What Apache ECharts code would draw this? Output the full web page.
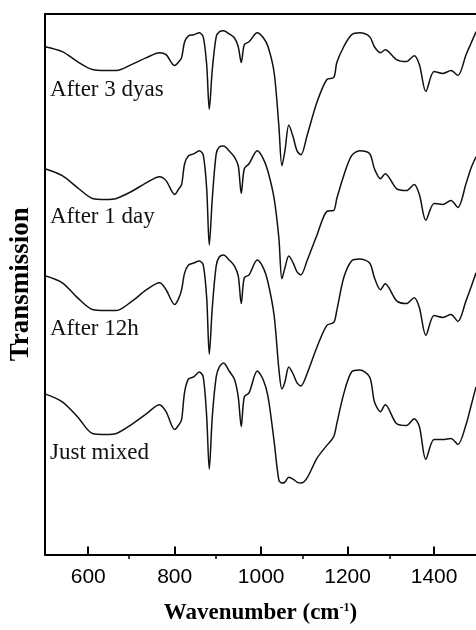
<!DOCTYPE html>
<html>
<head>
<meta charset="utf-8">
<script src="https://cdn.jsdelivr.net/npm/echarts@6/dist/echarts.min.js"></script>
<style>
  html, body { margin: 0; padding: 0; background: #fff; }
  #ir-chart { width: 476px; height: 630px; }
</style>
</head>
<body>
<div id="ir-chart"></div>
<script>
// wavenumber grid (cm-1) shared by the four spectra
const wavenumbers = [500, 540, 575, 610, 640, 665, 700, 735, 765, 780,
    800, 810, 816, 823, 832, 844, 857, 866, 874, 880,
    887, 896, 903, 913, 926, 938, 947, 954, 961, 972,
    991, 1005, 1016, 1030, 1041, 1048, 1055, 1064, 1074, 1083,
    1092, 1106, 1129, 1152, 1168, 1175, 1191, 1209, 1228, 1251,
    1262, 1276, 1287, 1313, 1336, 1354, 1366, 1381, 1400, 1420,
    1439, 1455, 1474, 1485, 1497];

// transmission, stacked with an offset (arbitrary units)
const after3Days = [512, 507, 497, 489, 488, 488, 494, 501, 506, 504,
    493, 497, 501, 517, 523, 524, 526, 522, 494, 449,
    489, 522, 527, 528, 525, 521, 512, 496, 514, 517,
    526, 521, 512, 486, 432, 392, 407, 433, 421, 407,
    403, 422, 456, 479, 481, 496, 512, 524, 526, 522,
    512, 506, 509, 499, 497, 503, 494, 467, 487, 485,
    488, 483, 504, 515, 527];
const after1Day = [389, 382, 370, 359, 358, 359, 366, 375, 381, 377,
    363, 369, 373, 394, 402, 404, 407, 403, 369, 312,
    359, 404, 411, 412, 407, 401, 392, 364, 389, 394,
    407, 399, 386, 359, 319, 278, 289, 301, 294, 285,
    282, 296, 322, 346, 347, 359, 382, 402, 407, 404,
    389, 379, 384, 369, 367, 373, 363, 337, 354, 353,
    357, 350, 374, 389, 401];
const after12h = [281, 274, 259, 247, 246, 246, 255, 267, 274, 267,
    252, 259, 267, 284, 292, 294, 296, 292, 259, 202,
    249, 291, 300, 302, 297, 291, 281, 253, 279, 282,
    297, 289, 274, 241, 187, 167, 174, 189, 182, 173,
    170, 182, 209, 231, 234, 246, 279, 296, 298, 294,
    279, 267, 273, 256, 253, 259, 249, 221, 241, 239,
    242, 235, 256, 269, 284];
const justMixed = [162, 154, 139, 122, 121, 122, 131, 142, 151, 144,
    126, 131, 136, 164, 177, 179, 184, 179, 139, 86,
    139, 179, 189, 193, 185, 177, 159, 129, 159, 163,
    185, 176, 159, 114, 75, 72, 73, 78, 76, 73,
    72, 77, 97, 110, 119, 132, 162, 184, 186, 179,
    154, 144, 151, 132, 130, 137, 129, 96, 116, 116,
    117, 111, 131, 149, 169];

const seriesNames = ['After 3 dyas', 'After 1 day', 'After 12h', 'Just mixed'];
const majorTicks = [600, 800, 1000, 1200, 1400];
const minorTicks = [700, 900, 1100, 1300];

const chart = echarts.init(document.getElementById('ir-chart'));

const toPairs = (vals) => wavenumbers.map((w, i) => [w, vals[i]]);
const spectra = [after3Days, after1Day, after12h, justMixed];

// label positions next to each curve (left, top)
const labelPos = [[50, 78], [50, 205], [50, 317], [50, 441]];

const gridBox = { left: 42, right: 0, top: 14, bottom: 71 };

const option = {
    backgroundColor: '#fff',
    animation: false,
    grid: [
        Object.assign({}, gridBox),
        Object.assign({}, gridBox)
    ],
    xAxis: [
        {
            type: 'value',
            gridIndex: 0,
            min: 500,
            max: 1497,
            position: 'bottom',
            axisLine: { lineStyle: { color: '#000', width: 2 } },
            axisTick: {
                inside: true,
                length: 8,
                customValues: majorTicks,
                lineStyle: { color: '#000', width: 2 }
            },
            axisLabel: {
                customValues: majorTicks,
                formatter: (v) => String(v),
                color: '#000',
                fontSize: 21,
                fontFamily: 'Liberation Sans',
                margin: 12
            },
            splitLine: { show: false },
            name: '{a|Wavenumber (cm}{b|-1}{a|)}',
            nameLocation: 'middle',
            nameGap: 47,
            nameTextStyle: {
                rich: {
                    a: { fontFamily: 'Liberation Serif', fontWeight: 'bold', fontSize: 23, color: '#000' },
                    b: { fontFamily: 'Liberation Serif', fontWeight: 'bold', fontSize: 12, color: '#000', verticalAlign: 'top', padding: [0, 0, 12, 0] }
                }
            }
        },
        {
            type: 'value',
            gridIndex: 0,
            min: 500,
            max: 1497,
            position: 'top',
            axisLine: { lineStyle: { color: '#000', width: 2 } },
            axisTick: { show: false },
            axisLabel: { show: false },
            splitLine: { show: false }
        },
        {
            // minor ticks
            type: 'value',
            gridIndex: 1,
            min: 500,
            max: 1497,
            position: 'bottom',
            axisLine: { show: false },
            axisTick: {
                inside: true,
                length: 4,
                customValues: minorTicks,
                lineStyle: { color: '#000', width: 1.5 }
            },
            axisLabel: { show: false },
            splitLine: { show: false }
        }
    ],
    yAxis: [
        {
            type: 'value',
            gridIndex: 0,
            min: 0,
            max: 545,
            axisLine: { show: true, lineStyle: { color: '#000', width: 2 } },
            axisTick: { show: false },
            axisLabel: { show: false },
            splitLine: { show: false },
            name: 'Transmission',
            nameLocation: 'middle',
            nameGap: 10,
            nameTextStyle: {
                fontFamily: 'Liberation Serif',
                fontWeight: 'bold',
                fontSize: 27,
                color: '#000'
            }
        },
        {
            type: 'value',
            gridIndex: 1,
            min: 0,
            max: 545,
            show: false
        }
    ],
    series: spectra.map((vals, i) => ({
        name: seriesNames[i],
        type: 'line',
        xAxisIndex: 0,
        yAxisIndex: 0,
        data: toPairs(vals),
        smooth: 0.3,
        symbol: 'none',
        lineStyle: { color: '#111', width: 1.5 }
    })),
    graphic: seriesNames.map((name, i) => ({
        type: 'text',
        left: labelPos[i][0],
        top: labelPos[i][1],
        style: {
            text: name,
            fill: '#111',
            fontFamily: 'Liberation Serif',
            fontSize: 23
        }
    }))
};

chart.setOption(option);
</script>
</body>
</html>
